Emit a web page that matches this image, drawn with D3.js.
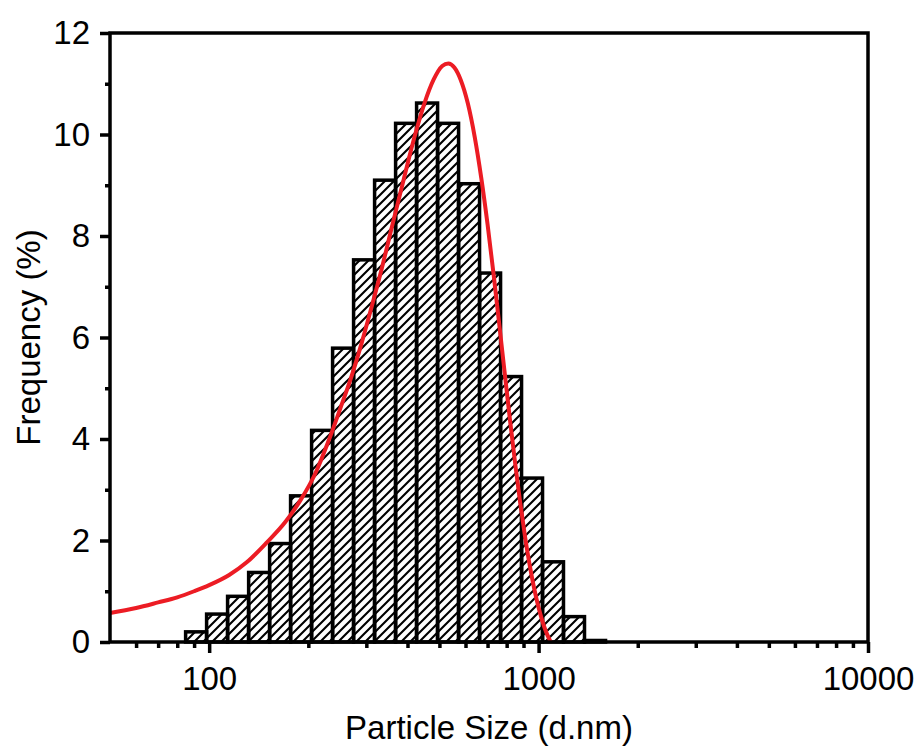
<!DOCTYPE html>
<html>
<head>
<meta charset="UTF-8">
<title>Particle size distribution</title>
<script src="https://d3js.org/d3.v7.min.js"></script>
<style>
  body { margin: 0; background: #fff; }
  text { font-family: "Liberation Sans", Arial, sans-serif; fill: #000; }
</style>
</head>
<body>
<div id="chart"></div>
<script>
// bin centres (d.nm) and frequency (%)
var binSize = [91.28, 105.7, 122.4, 141.8, 164.2, 190.1, 220.2, 255.0, 295.3, 342.0,
               396.1, 458.7, 531.2, 615.1, 712.4, 825.0, 955.4, 1106, 1281, 1484];
var frequency = [0.20, 0.55, 0.90, 1.37, 1.94, 2.88, 4.17, 5.79, 7.53, 9.10,
                 10.22, 10.62, 10.22, 9.03, 7.27, 5.23, 3.23, 1.58, 0.50, 0.03];

// fitted curve
var fitSize = [50, 60, 70, 80, 90, 100, 115, 130, 150, 170, 190, 210, 230, 250, 270, 290,
               310, 330, 360, 390, 420, 450, 480, 510, 532, 555, 580, 610, 640, 670, 700,
               730, 760, 790, 820, 850, 880, 910, 940, 970, 1000, 1040, 1080, 1090];
var fitFreq = [0.57, 0.67, 0.78, 0.88, 1.00, 1.12, 1.32, 1.57, 1.97, 2.36, 2.81, 3.32, 3.95, 4.60, 5.22, 5.88,
               6.56, 7.22, 8.22, 9.13, 9.95, 10.61, 11.08, 11.35, 11.40, 11.32, 11.08, 10.61, 9.95, 9.14, 8.23,
               7.25, 6.25, 5.27, 4.34, 3.49, 2.73, 2.07, 1.51, 1.05, 0.68, 0.30, 0.045, 0];

var xTicks = [100, 1000, 10000];
var xMinor = [60, 70, 80, 90, 200, 300, 400, 500, 600, 700, 800, 900,
              2000, 3000, 4000, 5000, 6000, 7000, 8000, 9000];
var yTicks = [0, 2, 4, 6, 8, 10, 12];
var yMinor = [1, 3, 5, 7, 9, 11];

var W = 918, H = 749;
var margin = { top: 33, right: 50, bottom: 107, left: 110 };
var width = W - margin.left - margin.right;
var height = H - margin.top - margin.bottom;

var svg = d3.select("#chart").append("svg")
    .attr("width", W).attr("height", H);

// hatch pattern
svg.append("defs").append("pattern")
    .attr("id", "hatch")
    .attr("patternUnits", "userSpaceOnUse")
    .attr("width", 9).attr("height", 9)
  .append("path")
    .attr("d", "M-2,2 l4,-4 M0,9 l9,-9 M7,11 l4,-4")
    .attr("stroke", "#000").attr("stroke-width", 2.1);

var g = svg.append("g")
    .attr("transform", "translate(" + margin.left + "," + margin.top + ")");

var x = d3.scaleLog().domain([50, 10000]).range([0, width]);
var y = d3.scaleLinear().domain([0, 12]).range([height, 0]);

// half bin width in log space
var half = Math.sqrt(binSize[1] / binSize[0]);

g.selectAll(".bar")
    .data(binSize)
    .enter().append("rect")
    .attr("class", "bar")
    .attr("x", function (d) { return x(d / half); })
    .attr("width", function (d) { return x(d * half) - x(d / half); })
    .attr("y", function (d, i) { return y(frequency[i]); })
    .attr("height", function (d, i) { return height - y(frequency[i]); })
    .attr("fill", "url(#hatch)")
    .attr("stroke", "#000")
    .attr("stroke-width", 3.5);

// fit curve
var line = d3.line()
    .x(function (d) { return x(d); })
    .y(function (d, i) { return y(fitFreq[i]); })
    .curve(d3.curveMonotoneX);

g.append("path")
    .datum(fitSize)
    .attr("d", line)
    .attr("fill", "none")
    .attr("stroke", "#ec1c24")
    .attr("stroke-width", 4);

// axes
function styleAxis(sel) {
    sel.select(".domain").remove();
    sel.selectAll(".tick line").attr("stroke", "#000").attr("stroke-width", 3.5);
    sel.selectAll(".tick text").style("font-size", "33px")
        .style("font-family", "'Liberation Sans', Arial, sans-serif");
}

g.append("g")
    .attr("transform", "translate(0," + height + ")")
    .call(d3.axisBottom(x).tickValues(xMinor).tickSize(6).tickFormat(""))
    .call(styleAxis);

g.append("g")
    .attr("transform", "translate(0," + height + ")")
    .call(d3.axisBottom(x).tickValues(xTicks).tickSize(11).tickPadding(14).tickFormat(d3.format("d")))
    .call(styleAxis);

g.append("g")
    .call(d3.axisLeft(y).tickValues(yMinor).tickSize(5).tickFormat(""))
    .call(styleAxis);

g.append("g")
    .call(d3.axisLeft(y).tickValues(yTicks).tickSize(10).tickPadding(10))
    .call(styleAxis);

// frame
g.append("rect")
    .attr("width", width).attr("height", height)
    .attr("fill", "none")
    .attr("stroke", "#000")
    .attr("stroke-width", 3.5);

// axis titles
svg.append("text")
    .attr("x", margin.left + width / 2)
    .attr("y", 739)
    .attr("text-anchor", "middle")
    .style("font-size", "33px")
    .text("Particle Size (d.nm)");

svg.append("text")
    .attr("transform", "translate(40," + (margin.top + height / 2) + ") rotate(-90)")
    .attr("text-anchor", "middle")
    .style("font-size", "33px")
    .text("Frequency (%)");
</script>
</body>
</html>
